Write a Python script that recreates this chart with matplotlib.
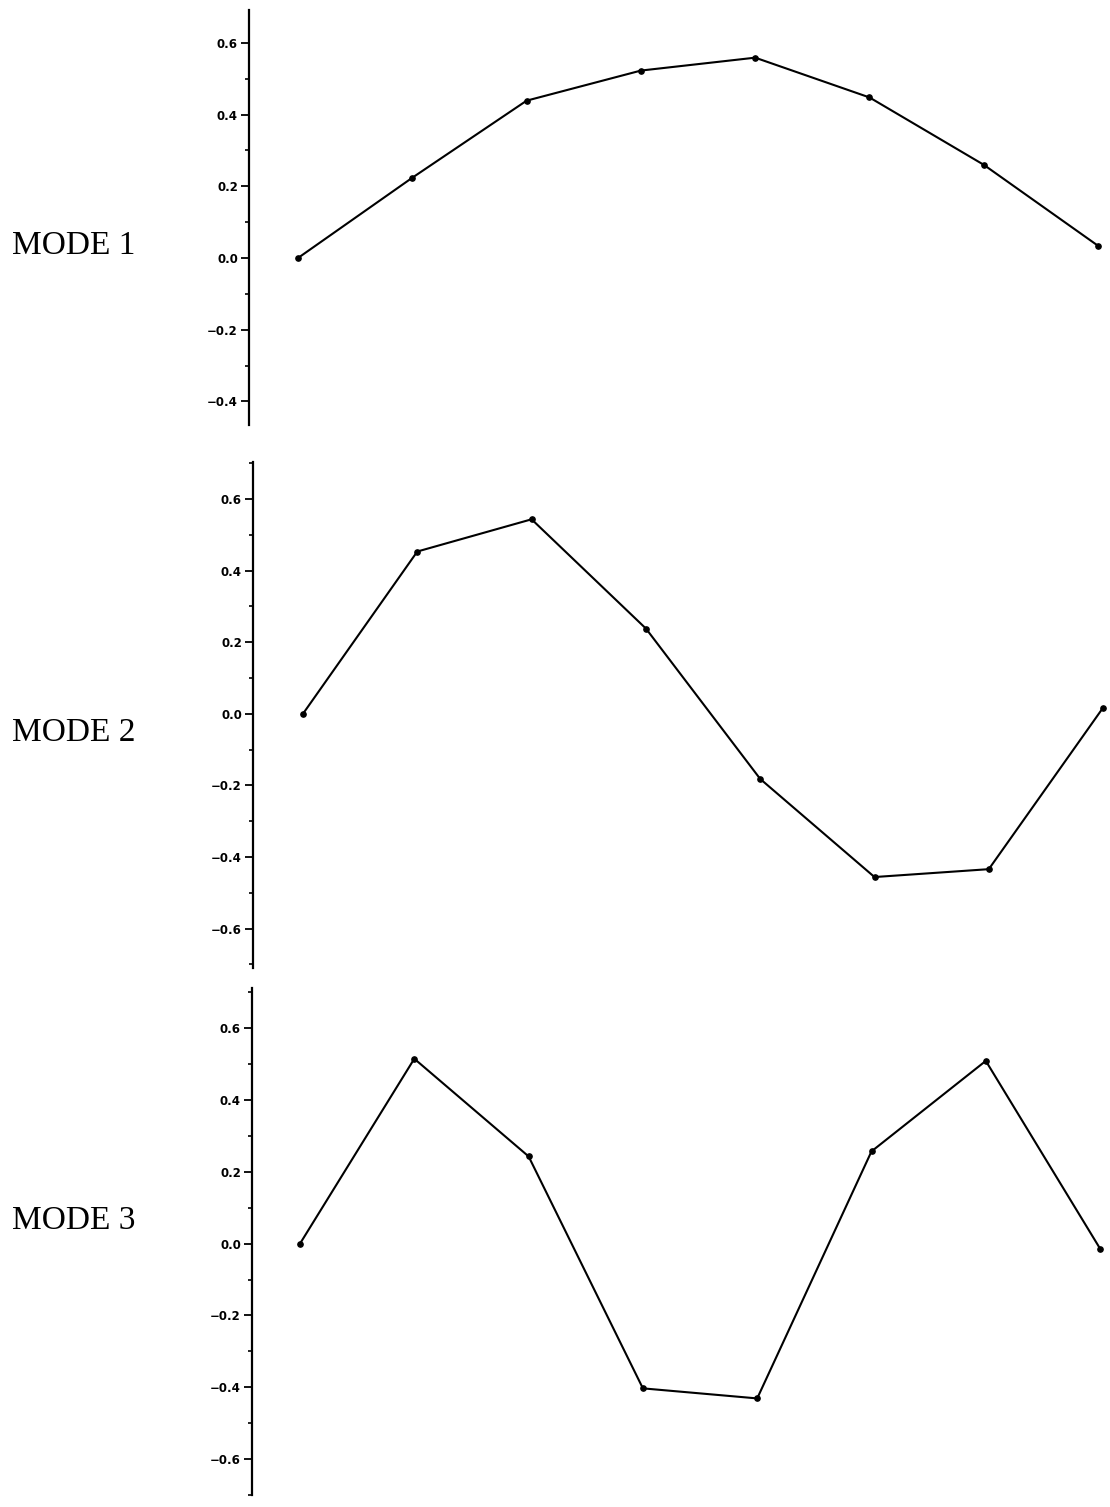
import numpy as np
import matplotlib.pyplot as plt
from matplotlib.ticker import MultipleLocator

# mode shape amplitudes at the eight stations
stations = np.arange(1, 9)
mode1 = [0.0, 0.224, 0.439, 0.523, 0.559, 0.448, 0.260, 0.034]
mode2 = [0.0, 0.453, 0.543, 0.238, -0.182, -0.456, -0.434, 0.017]
mode3 = [0.0, 0.515, 0.243, -0.403, -0.431, 0.257, 0.509, -0.014]
labels = ['MODE 1', 'MODE 2', 'MODE 3']

W, H = 1110, 1507
fig = plt.figure(figsize=(W / 100, H / 100), dpi=100)

# spine x, top y, bottom y (pixels), y limits, first point x, label y
panels = [
    (249, 10, 425, (-0.466, 0.692), 298, 246),
    (253, 462, 968, (-0.71, 0.703), 303, 733),
    (252, 988, 1495, (-0.70, 0.712), 300, 1221),
]
spacing = 114.3

for (sx, top, bot, ylim, x1, ty), vals, lab in zip(panels, [mode1, mode2, mode3], labels):
    right = 1108
    ax = fig.add_axes([sx / W, 1 - bot / H, (right - sx) / W, (bot - top) / H])
    ax.plot(stations, vals, color='black', lw=1.5, marker='o', ms=3.8)
    ax.set_xlim(1 - (x1 - sx) / spacing, 8 + (right - (x1 + 7 * spacing)) / spacing)
    ax.set_ylim(*ylim)
    for s in ['top', 'right', 'bottom']:
        ax.spines[s].set_visible(False)
    ax.spines['left'].set_linewidth(1.6)
    ax.set_xticks([])
    ax.yaxis.set_major_locator(MultipleLocator(0.2))
    ax.yaxis.set_minor_locator(MultipleLocator(0.1))
    ax.yaxis.set_major_formatter(lambda v, p: f'{v:.1f}'.replace('-', '\u2212'))
    ax.tick_params(axis='y', which='major', length=6, width=1.3, labelsize=8.5, pad=2)
    ax.tick_params(axis='y', which='minor', length=3, width=1.2)
    for t in ax.get_yticklabels():
        t.set_fontweight('bold')
    fig.text(12 / W, 1 - ty / H, lab, family='Liberation Serif', fontsize=24,
             ha='left', va='center')

fig.savefig('out.png', dpi=100, facecolor='white')
